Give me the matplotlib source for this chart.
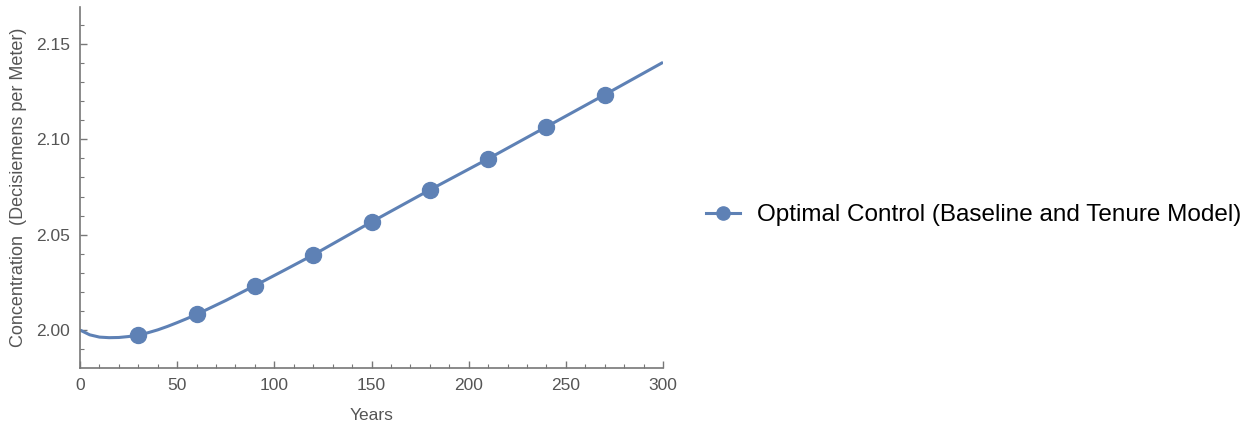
import matplotlib
matplotlib.use("Agg")
import matplotlib.pyplot as plt
from matplotlib.ticker import MultipleLocator, FormatStrFormatter

# curve (years, concentration)
curve_years = [0, 5, 10, 15, 20, 25, 30, 35, 40, 45, 50, 55, 60, 75, 90, 105, 120,
               150, 180, 210, 240, 270, 300]
curve_conc = [2.0000, 1.9975, 1.9963, 1.9960, 1.9961, 1.9966, 1.9974, 1.9986,
              2.0001, 2.0019, 2.0039, 2.0060, 2.0082, 2.0155, 2.0233, 2.0313,
              2.0394, 2.0567, 2.0735, 2.0898, 2.1066, 2.1234, 2.1404]

# marker points
marker_years = [30, 60, 90, 120, 150, 180, 210, 240, 270]
marker_conc = [1.9974, 2.0082, 2.0233, 2.0394, 2.0567, 2.0735, 2.0898, 2.1066, 2.1234]

series_label = "Optimal Control (Baseline and Tenure Model)"
blue = "#5E81B5"
gray = "#555555"

plt.rcParams["font.family"] = ["Liberation Sans", "DejaVu Sans"]

fig = plt.figure(figsize=(12.56, 4.28), dpi=100)
ax = fig.add_axes([0.0637, 0.1402, 0.4642, 0.8434])

ax.plot(curve_years, curve_conc, color=blue, lw=2.2, zorder=2,
        solid_joinstyle="round", solid_capstyle="butt")
ax.plot(marker_years, marker_conc, "o", color=blue, ms=11.5, zorder=3)
# legend proxy
ax.plot([], [], "-o", color=blue, lw=2.2, ms=9.5, label=series_label)

ax.set_xlim(0, 300)
ax.set_ylim(1.9801, 2.1694)
ax.xaxis.set_major_locator(MultipleLocator(50))
ax.xaxis.set_minor_locator(MultipleLocator(10))
ax.yaxis.set_major_locator(MultipleLocator(0.05))
ax.yaxis.set_minor_locator(MultipleLocator(0.01))
ax.yaxis.set_major_formatter(FormatStrFormatter("%.2f"))

for side in ["top", "right"]:
    ax.spines[side].set_visible(False)
for side in ["left", "bottom"]:
    ax.spines[side].set_color("#777777")
    ax.spines[side].set_linewidth(1.2)

ax.tick_params(which="major", direction="in", length=5, width=1, color="#777777",
               labelsize=12.5, labelcolor=gray, pad=7)
ax.tick_params(which="minor", direction="in", length=3, width=0.8, color="#777777")

ax.set_xlabel("Years", fontsize=12.5, color=gray, labelpad=11)
ax.set_ylabel("Concentration  (Decisiemens per Meter)", fontsize=13, color=gray,
              labelpad=7)

ax.legend(loc="center left", bbox_to_anchor=(1.0566, 0.4238), frameon=False,
          fontsize=17.5, handlelength=1.4, handletextpad=0.7, borderaxespad=0)

fig.savefig("out.png", dpi=100)
